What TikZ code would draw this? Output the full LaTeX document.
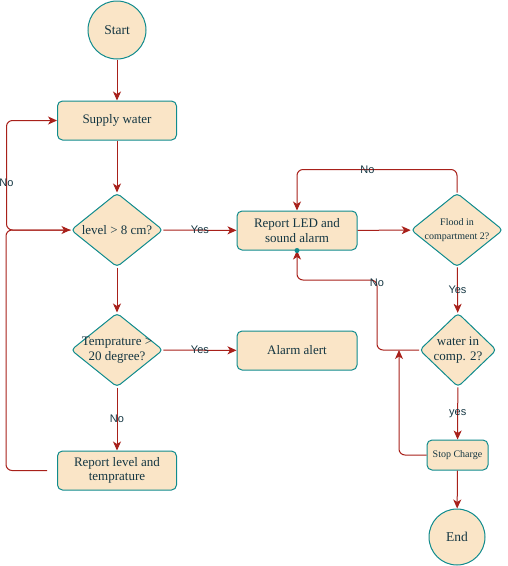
\documentclass[tikz,border=0pt]{standalone}
\usepackage{fontspec}
\setmainfont{Liberation Serif}
\newfontfamily\labelfont{Liberation Sans}
\usepackage{tikz}
\usetikzlibrary{shapes.geometric, arrows.meta, positioning, calc}

\definecolor{boxfill}{HTML}{FAE5C7}
\definecolor{boxline}{HTML}{0F8B8D}
\definecolor{flowline}{HTML}{A8201A}
\definecolor{boxtext}{HTML}{143642}

\begin{document}
\begin{tikzpicture}[x=1pt, y=-1pt,
  every node/.style={text=boxtext},
  process/.style={rectangle, rounded corners=5pt, draw=boxline, fill=boxfill, line width=1pt, minimum width=119pt, minimum height=39pt, inner sep=2pt, align=center, font=\fontsize{13}{14.5}\selectfont},
  terminal/.style={circle, draw=boxline, fill=boxfill, line width=1pt, minimum size=58pt, inner sep=0pt, font=\fontsize{13.5}{15}\selectfont},
  decision/.style={diamond, draw=boxline, fill=boxfill, line width=1pt, rounded corners=4pt, minimum width=92pt, minimum height=74pt, inner sep=0pt},
  flow/.style={draw=flowline, line width=1pt, rounded corners=6pt, -{Stealth[length=9pt, width=8pt, inset=2.5pt]}},
  answer/.style={font=\labelfont\fontsize{11}{12}\selectfont, inner sep=0pt}]
\useasboundingbox (0,0) rectangle (508,566);

% Left column
\node[terminal] (start) at (117,30) {Start};
\node[process] (supply) at (117,120.5) {Supply water};
\node[decision, label={[align=center, font=\fontsize{13}{14.5}\selectfont, text=boxtext]center:level > 8 cm?}] (level) at (117,230) {};
\node[decision, label={[align=center, font=\fontsize{13}{14.5}\selectfont, text=boxtext]center:Temprature >\\20 degree?}] (temp) at (117,350) {};
\node[process] (replevel) at (117,470.5) {Report level and\\temprature};

% Middle column
\node[process, minimum width=120pt] (report) at (297,230.5) {Report LED and\\sound alarm};
\node[process, minimum width=120pt] (alarm) at (297,350.5) {Alarm alert};

% Right column
\node[decision, label={[align=center, font=\fontsize{10}{14}\selectfont, text=boxtext]center:Flood in\\compartment 2?}] (flood) at (457,230) {};
\node[decision, minimum width=77pt, label={[align=center, font=\fontsize{13}{14.5}\selectfont, text=boxtext]center:water in\\comp. 2?}] (water) at (458,350) {};
\node[process, minimum width=61pt, minimum height=30pt, font=\fontsize{10}{11}\selectfont] (stop) at (457.5,455) {Stop Charge};
\node[terminal, minimum size=56pt] (endn) at (457,537) {End};

% Helper points
\coordinate (back) at (377,280);
\coordinate (merge) at (399,350);

% Main flow
\draw[flow] (start) -- (supply);
\draw[flow] (supply) -- (level);
\draw[flow] (level) -- node[answer] {Yes} (report);
\draw[flow] (level) -- (temp);
\draw[flow] (temp) -- node[answer] {Yes} (alarm);
\draw[flow] (temp) -- node[answer] {No} (replevel);

% Loops on the left
\draw[flow] (level.west) -- ++(-64,0) -- node[answer, pos=0.43] {No} ++(0,-109.5) -- (supply.west);
\draw[flow, shorten <=10pt] (replevel.west) -- ++(-51,0) -- ++(0,-240.5) -- (level.west);

% Right side
\draw[flow] (report) -- (flood);
\draw[flow] (flood.north) -- ++(0,-23) -| node[answer, pos=0.28] {No} (report.north);
\draw[flow] (flood) -- node[answer] {Yes} (water);
\draw[flow] (water.west) -| (back) -| (report.south);
\node[answer] at ($(back)+(0,3)$) {No};
\fill[boxline] (report.south) circle (2.5pt);
\draw[flow] (water) -- node[answer] {yes} (stop);
\draw[flow] (stop.west) -| (merge);
\draw[flow] (stop) -- (endn);
\end{tikzpicture}
\end{document}
